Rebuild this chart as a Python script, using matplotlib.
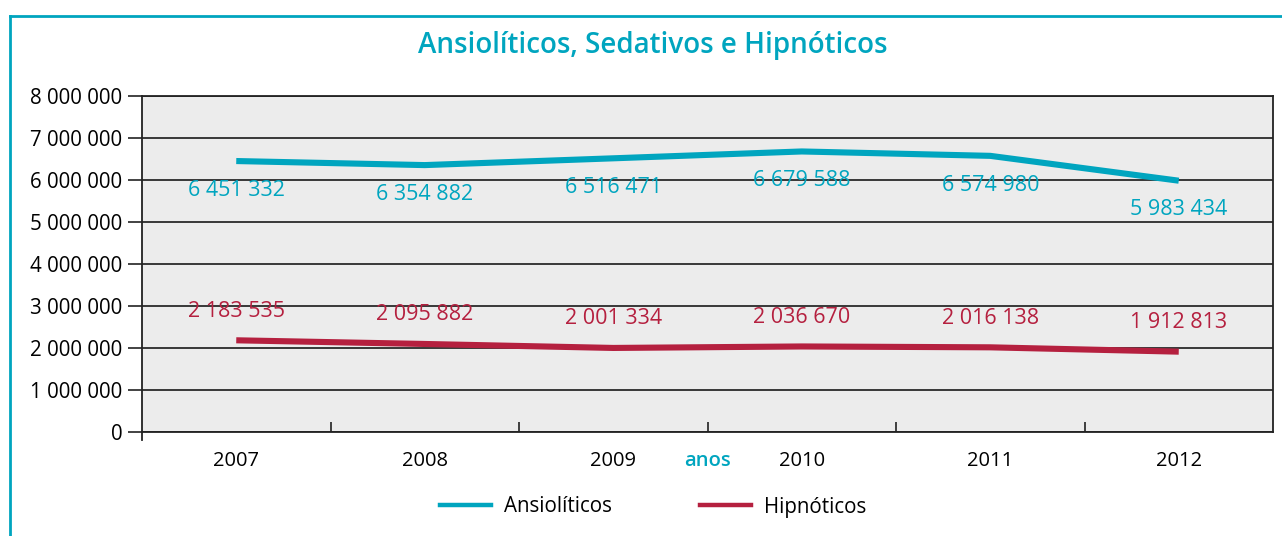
import matplotlib
matplotlib.use("Agg")
import matplotlib.pyplot as plt
from matplotlib.lines import Line2D
from matplotlib.ticker import FuncFormatter, FixedLocator
import matplotlib.transforms as mtransforms

plt.rcParams['font.family'] = ['Open Sans', 'DejaVu Sans']

years = ['2007', '2008', '2009', '2010', '2011', '2012']
ansioliticos = [6451332, 6354882, 6516471, 6679588, 6574980, 5983434]
hipnoticos = [2183535, 2095882, 2001334, 2036670, 2016138, 1912813]
yticks = [0, 1000000, 2000000, 3000000, 4000000, 5000000, 6000000, 7000000, 8000000]

TEAL = '#00a5bf'
CRIMSON = '#b5203f'
BG = '#ececec'


def spaced(v):
    return f"{int(v):,}".replace(",", " ")


W, H = 1282, 536
fig = plt.figure(figsize=(W / 100, H / 100), dpi=100)
ax = fig.add_axes([142 / W, 1 - 432 / H, (1273 - 142) / W, (432 - 96) / H])
ax.set_facecolor(BG)

x = list(range(len(years)))
ax.plot(x, ansioliticos, color=TEAL, lw=4.4, solid_capstyle='butt', zorder=3)
ax.plot(x, hipnoticos, color=CRIMSON, lw=4.4, solid_capstyle='butt', zorder=3)

for xi, v in zip(x, ansioliticos):
    ax.annotate(spaced(v), (xi, v), xytext=(0, -21), textcoords='offset points',
                ha='center', va='center', color=TEAL, fontsize=15.5,
                fontweight='medium', zorder=4)
for xi, v in zip(x, hipnoticos):
    ax.annotate(spaced(v), (xi, v), xytext=(0, 21), textcoords='offset points',
                ha='center', va='center', color=CRIMSON, fontsize=15.5,
                fontweight='medium', zorder=4)

ax.set_xlim(-0.5, len(years) - 0.5)
ax.set_ylim(0, 8000000)
ax.set_yticks(yticks)
ax.yaxis.set_major_formatter(FuncFormatter(lambda v, p: spaced(v)))
ax.grid(axis='y', color='#2a2a2a', lw=1.3, zorder=1)
ax.set_axisbelow(True)

# category boundaries get inward ticks, labels sit at the centres
ax.xaxis.set_major_locator(FixedLocator([i + 0.5 for i in range(len(years) - 1)]))
ax.xaxis.set_minor_locator(FixedLocator(x))
ax.set_xticklabels([], minor=False)
ax.set_xticklabels(years, minor=True)
ax.tick_params(axis='x', which='major', direction='in', length=7, width=1.2, color='#222')
ax.tick_params(axis='x', which='minor', length=0, pad=14, labelsize=14.5)
ax.tick_params(axis='y', direction='out', length=10, width=1.2, color='#222',
               labelsize=14.8, pad=4)

for s in ax.spines.values():
    s.set_color('#222')
    s.set_linewidth(1.3)

# left spine continues just below zero
trans = mtransforms.blended_transform_factory(ax.transAxes, ax.transAxes)
ax.add_line(Line2D([0, 0], [0, -8 / 336], transform=trans, color='#222', lw=1.3,
                   clip_on=False))

ax.text(2.5, -0.087, 'anos', transform=mtransforms.blended_transform_factory(ax.transData, ax.transAxes),
        ha='center', va='center', color=TEAL, fontsize=14.5, fontweight='semibold')

fig.text(653 / W, 1 - 46 / H, 'Ansiolíticos, Sedativos e Hipnóticos', ha='center',
         va='center', color=TEAL, fontsize=20, fontweight='semibold')

handles = [Line2D([], [], color=TEAL, lw=3.2), Line2D([], [], color=CRIMSON, lw=3.2)]
fig.legend(handles, ['Ansiolíticos', 'Hipnóticos'], loc='center',
           bbox_to_anchor=(653 / W, 1 - 507 / H), ncol=2, frameon=False,
           fontsize=14.8, handlelength=2.5, handletextpad=0.6, columnspacing=4.3)

# teal frame along the top and left edges
fig.add_artist(Line2D([10 / W, 1], [1 - 16 / H, 1 - 16 / H], transform=fig.transFigure,
                      color=TEAL, lw=2))
fig.add_artist(Line2D([10 / W, 10 / W], [0, 1 - 16 / H], transform=fig.transFigure,
                      color=TEAL, lw=2))

fig.savefig('out.png', dpi=100)
